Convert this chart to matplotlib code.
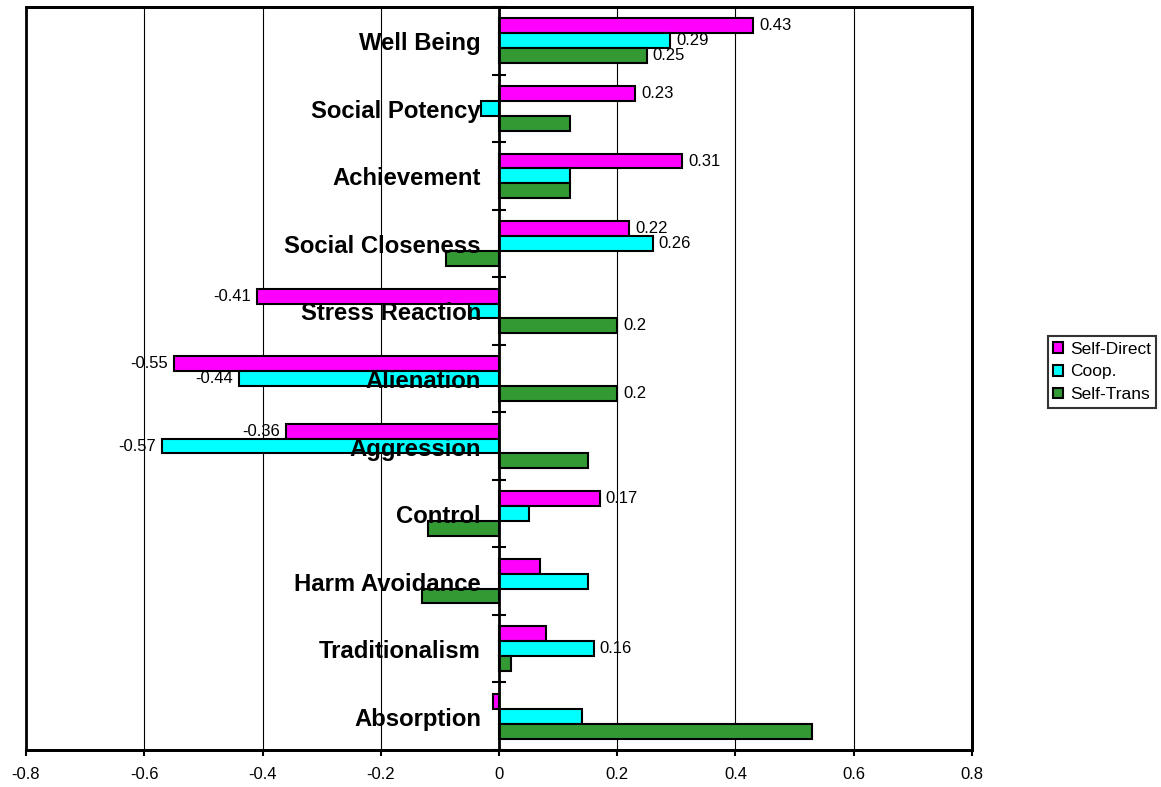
import matplotlib.pyplot as plt
import numpy as np
from matplotlib.patches import Rectangle
import matplotlib.transforms as mtransforms

plt.rcParams['font.family'] = ['Liberation Sans', 'DejaVu Sans']

# data, top to bottom
categories = ['Well Being', 'Social Potency', 'Achievement', 'Social Closeness',
              'Stress Reaction', 'Alienation', 'Aggression', 'Control',
              'Harm Avoidance', 'Traditionalism', 'Absorption']
self_direct = [0.43, 0.23, 0.31, 0.22, -0.41, -0.55, -0.36, 0.17, 0.07, 0.08, -0.01]
coop = [0.29, -0.03, 0.12, 0.26, -0.05, -0.44, -0.57, 0.05, 0.15, 0.16, 0.14]
self_trans = [0.25, 0.12, 0.12, -0.09, 0.2, 0.2, 0.15, -0.12, -0.13, 0.02, 0.53]

# which bars carry a value label in the original
sd_show = [1, 1, 1, 1, 1, 1, 1, 1, 0, 0, 0]
coop_show = [1, 0, 0, 1, 0, 1, 1, 0, 0, 1, 0]
st_show = [1, 0, 0, 0, 1, 1, 0, 0, 0, 0, 0]

xticks = [-0.8, -0.6, -0.4, -0.2, 0, 0.2, 0.4, 0.6, 0.8]

series = [('Self-Direct', self_direct, sd_show, '#ff00ff'),
          ('Coop.', coop, coop_show, '#00ffff'),
          ('Self-Trans', self_trans, st_show, '#339933')]

fig = plt.figure(figsize=(11.61, 7.87), dpi=100)
ax = fig.add_axes([26 / 1161, 1 - 750 / 787, (972 - 26) / 1161, (750 - 7) / 787])

n = len(categories)
y = np.arange(n)
h = 0.22

for i, (name, vals, show, col) in enumerate(series):
    pos = y + (i - 1) * h
    ax.barh(pos, vals, height=h, color=col, edgecolor='black', linewidth=1.5,
            label=name, zorder=3)
    for p, v, s in zip(pos, vals, show):
        if s:
            off = 6 if v >= 0 else -6
            tr = ax.transData + mtransforms.ScaledTranslation(off / 100, 0, fig.dpi_scale_trans)
            ax.text(v, p, f'{v:g}', ha='left' if v >= 0 else 'right', va='center',
                    fontsize=12, transform=tr, zorder=5)

# category names, drawn on top of the bars, just left of the zero line
lab_tr = ax.transData + mtransforms.ScaledTranslation(-18 / 100, -3 / 100, fig.dpi_scale_trans)
for yy, c in zip(y, categories):
    ax.text(0, yy, c, ha='right', va='center', fontsize=17.2, fontweight='bold',
            transform=lab_tr, zorder=7)

ax.set_xlim(-0.8, 0.8)
ax.set_ylim(n - 0.5, -0.5)
ax.set_xticks(xticks)
ax.set_xticklabels([f'{t:g}' for t in xticks], fontsize=12)
ax.tick_params(axis='x', direction='out', length=4, width=1.5, pad=8)
ax.grid(axis='x', color='black', linewidth=0.8, zorder=0)

# category axis sits at x = 0, ticks between categories
ax.spines['left'].set_position(('data', 0))
ax.spines['left'].set_linewidth(2)
ax.spines['left'].set_zorder(4)
ax.set_yticks(np.arange(n + 1) - 0.5)
ax.set_yticklabels([])
ax.tick_params(axis='y', which='major', direction='inout', length=10, width=1.5)

for s in ['top', 'right', 'bottom']:
    ax.spines[s].set_linewidth(2)
ax.add_patch(Rectangle((0, 0), 1, 1, transform=ax.transAxes, fill=False,
                       edgecolor='black', linewidth=2, zorder=6, clip_on=False))

leg = fig.legend(loc='center left', bbox_to_anchor=(1048 / 1161, 1 - 372 / 787),
                 fontsize=12.5, frameon=True, fancybox=False, edgecolor='black',
                 handlelength=0.55, handleheight=0.55, handletextpad=0.4,
                 borderpad=0.3, labelspacing=0.45, borderaxespad=0)
leg.get_frame().set_linewidth(1.5)

fig.savefig('out.png', dpi=100)
